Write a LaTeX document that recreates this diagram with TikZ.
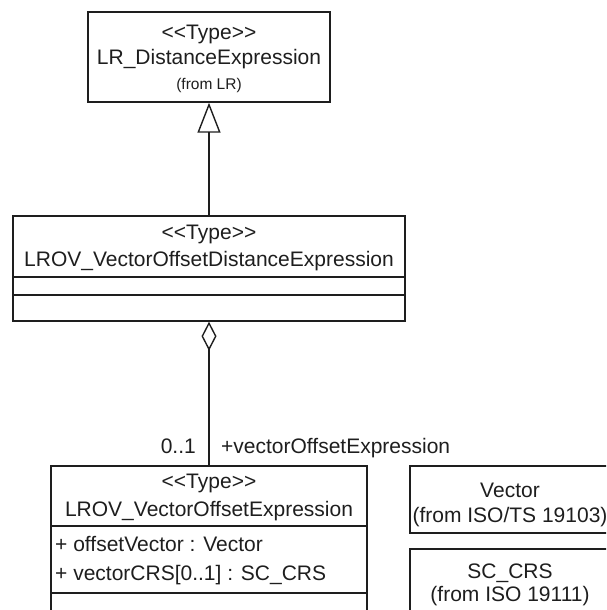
\documentclass[tikz,border=0pt]{standalone}
\usepackage{fontspec}
\newfontfamily\umlfont{Liberation Sans}
\usetikzlibrary{arrows.meta}
\definecolor{ink}{HTML}{1E1E1E}
\newcommand\stype{\mbox{<}\mbox{<}Type\mbox{>}\mbox{>}}
\begin{document}
\begin{tikzpicture}[x=1pt,y=-1pt,
  box/.style={draw=ink,line width=1.4pt,inner sep=0pt},
  txt/.style={anchor=base,inner sep=0pt,text=ink,font=\umlfont\fontsize{21}{25}\selectfont},
  small/.style={anchor=base,inner sep=0pt,text=ink,font=\umlfont\fontsize{15.5}{18}\selectfont},
  conn/.style={draw=ink,line width=1.4pt}]
\useasboundingbox (0,0) rectangle (606,610);
\clip (0,0) rectangle (606,610);
% top class
\node[box,minimum width=242pt,minimum height=90pt] (lr) at (209,57) {};
\node[txt] (lrst) at (209,40) {\stype};
\node[txt] (lrname) at (209,65) {LR\_DistanceExpression};
\node[small] (lrfrom) at (209,89) {(from LR)};
% middle class
\node[box,minimum width=392pt,minimum height=105pt] (vod) at (209,268.5) {};
\draw[conn] (13,277) coordinate (vodc1a) -- (405,277) coordinate (vodc1b);
\draw[conn] (13,295) coordinate (vodc2a) -- (405,295) coordinate (vodc2b);
\node[txt] (vodst) at (209,239) {\stype};
\node[txt] (vodname) at (209,266) {LROV\_VectorOffsetDistanceExpression};
% bottom class
\node[box,minimum width=316pt,minimum height=200pt] (voe) at (209,566) {};
\draw[conn] (51,526) coordinate (voec1a) -- (367,526) coordinate (voec1b);
\draw[conn] (51,593) coordinate (voec2a) -- (367,593) coordinate (voec2b);
\node[txt] (voest) at (209,488) {\stype};
\node[txt] (voename) at (209,516) {LROV\_VectorOffsetExpression};
\node[txt,anchor=base west] (attr1) at (55,551) {+ offsetVector : Vector};
\node[txt,anchor=base west] (attr2) at (55,580) {+ vectorCRS[0..1] : SC\_CRS};
% right boxes
\node[box,minimum width=200pt,minimum height=67pt] (vec) at (510,499.5) {};
\node[txt] (vecname) at (510,497) {Vector};
\node[txt] (vecfrom) at (510,522) {(from ISO/TS 19103)};
\node[box,minimum width=200pt,minimum height=80pt] (crs) at (510,589) {};
\node[txt] (crsname) at (510,578) {SC\_CRS};
\node[txt] (crsfrom) at (510,601) {(from ISO 19111)};
% connectors
\draw[conn,-{Triangle[open,length=30pt,width=23pt,line width=1.4pt]}] (vod.north) -- (lr.south);
\draw[conn,{Diamond[open,length=29pt,width=15pt,line width=1.4pt]}-] (vod.south) -- (voe.north);
\node[txt,anchor=base east] (mult) at (196,453) {0..1};
\node[txt,anchor=base west] (role) at (221,453) {+vectorOffsetExpression};
\end{tikzpicture}
\end{document}
